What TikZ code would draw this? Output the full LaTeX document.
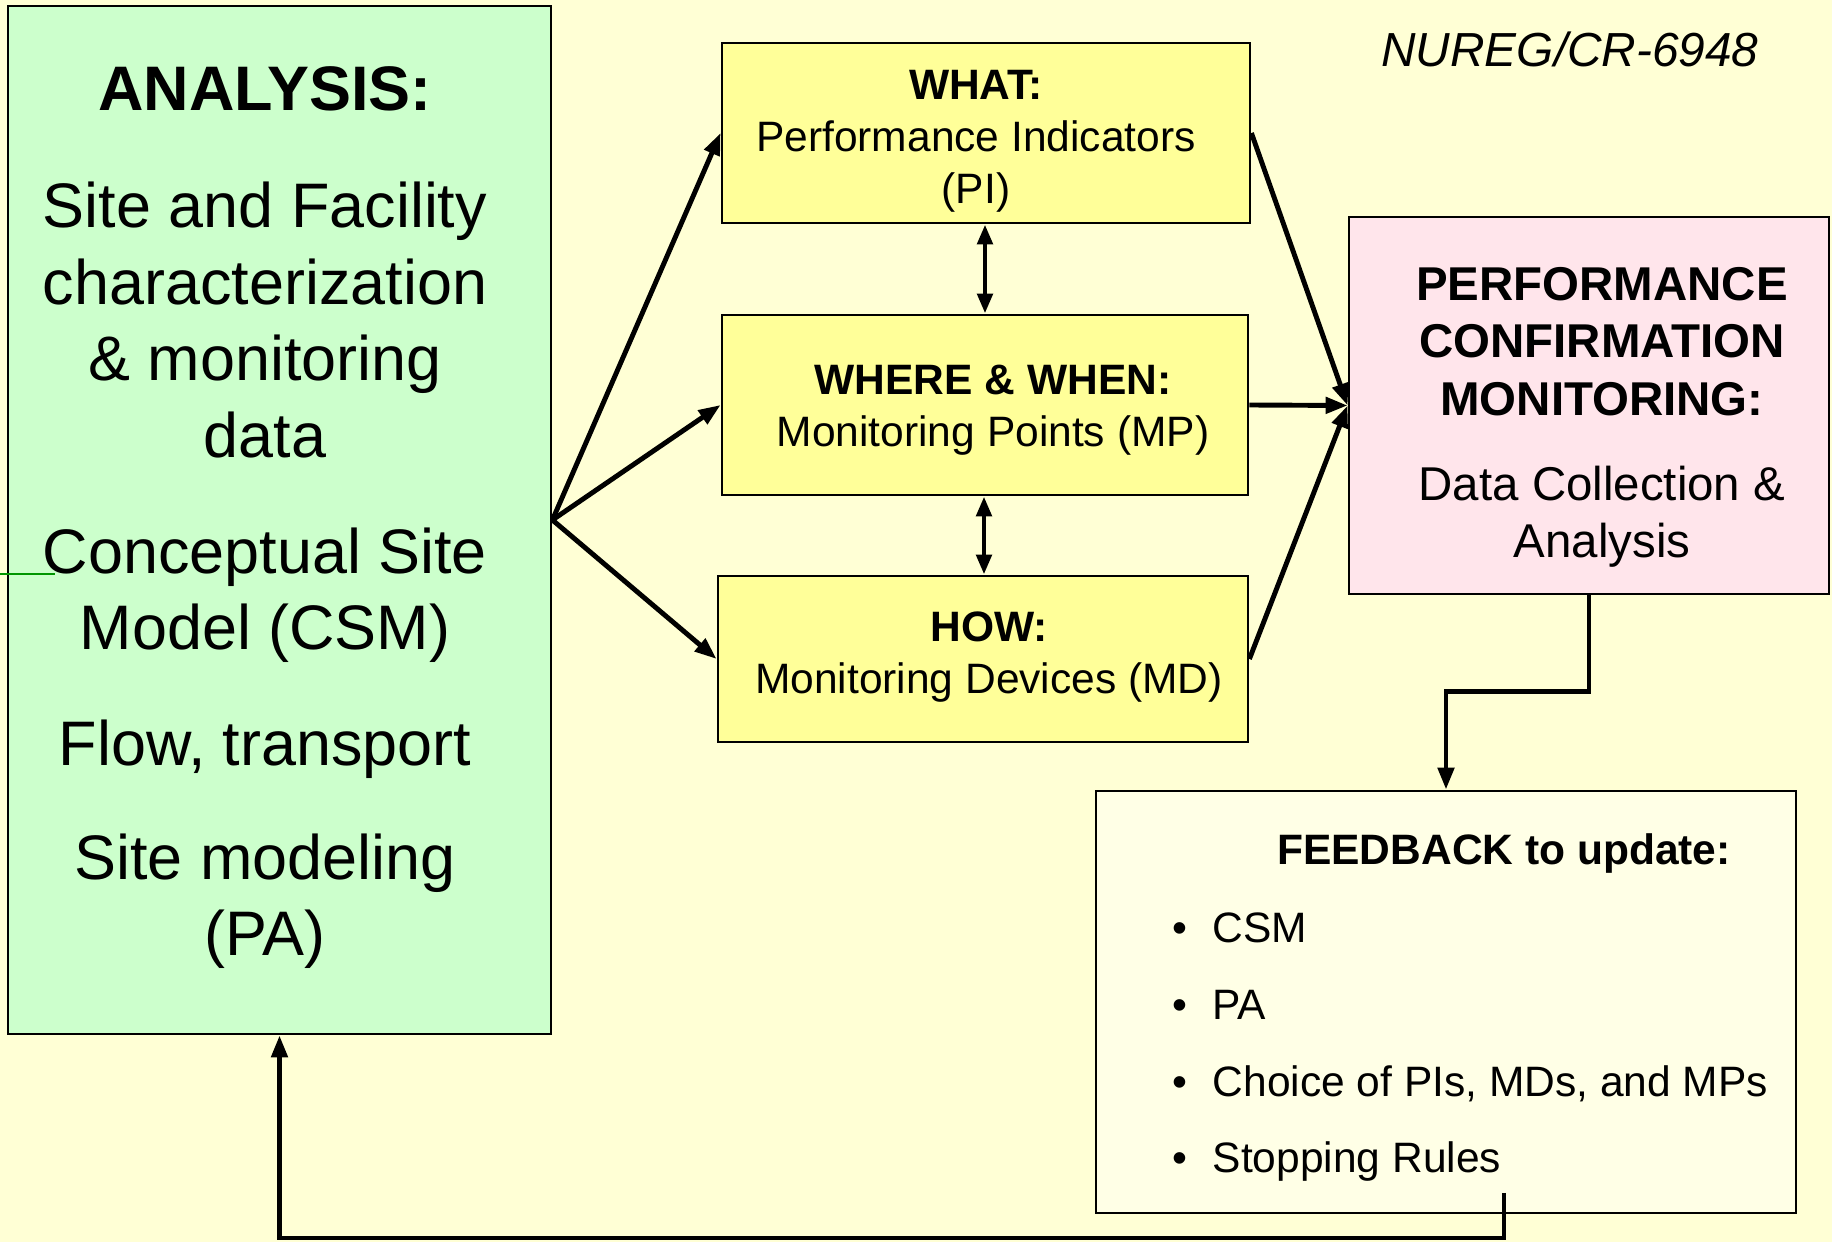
\documentclass[tikz,border=0pt]{standalone}
\usepackage{fontspec}
\setmainfont{Liberation Sans}
\usepackage{tikz}
\usetikzlibrary{arrows.meta,positioning,calc}
\definecolor{bgyellow}{RGB}{255,255,213}
\definecolor{analysisgreen}{RGB}{204,255,204}
\definecolor{boxyellow}{RGB}{255,255,153}
\definecolor{pcmpink}{RGB}{255,229,235}
\definecolor{feedbackfill}{RGB}{255,255,230}
\definecolor{straygreen}{RGB}{0,150,0}

\begin{document}
\begin{tikzpicture}[x=1cm, y=-1cm]
  % Performance confirmation monitoring flow
  \tikzstyle{panel} = [rectangle, draw=black, line width=0.8pt, inner sep=0pt]
  \tikzstyle{boxtext} = [align=center, inner sep=0pt, anchor=base, font=\fontsize{12.1}{14.8}\selectfont]
  \tikzstyle{connection} = [line width=1.4pt, -{Triangle[length=0.22cm, width=0.16cm]}]
  \tikzstyle{twoway} = [line width=1.4pt, {Triangle[length=0.2cm, width=0.15cm]}-{Triangle[length=0.2cm, width=0.15cm]}]

  % Page and background
  \useasboundingbox (0,0) rectangle (18.32,12.42);
  \fill[bgyellow] (0,0) rectangle (18.32,12.42);

  % Boxes
  \node[panel, fill=analysisgreen, minimum width=5.43cm, minimum height=10.28cm] (analysis) at (2.795, 5.20) {};
  \node[panel, fill=boxyellow, minimum width=5.28cm, minimum height=1.80cm] (what) at (9.86, 1.33) {};
  \node[panel, fill=boxyellow, minimum width=5.26cm, minimum height=1.80cm] (where) at (9.85, 4.05) {};
  \node[panel, fill=boxyellow, minimum width=5.30cm, minimum height=1.66cm] (how) at (9.83, 6.59) {};
  \node[panel, fill=pcmpink, minimum width=4.80cm, minimum height=3.77cm] (pcm) at (15.89, 4.055) {};
  \node[panel, fill=feedbackfill, minimum width=7.00cm, minimum height=4.22cm] (feedback) at (14.46, 10.02) {};

  % Texts (base = last line)
  \node[inner sep=0pt, anchor=base, align=center, font=\fontsize{17.9}{21.8}\selectfont] (analysistxt) at (2.65, 9.56)
    {\textbf{ANALYSIS:}\\[11.5pt] Site and Facility\\characterization\\\& monitoring\\data\\[11.2pt]
     Conceptual Site\\Model (CSM)\\[11.2pt] Flow, transport\\[10.5pt] Site modeling\\(PA)};
  \node[boxtext] (whattxt) at (9.76, 2.04) {\textbf{WHAT:}\\Performance Indicators\\(PI)};
  \node[boxtext] (wheretxt) at (9.93, 4.47) {\textbf{WHERE \& WHEN:}\\Monitoring Points (MP)};
  \node[boxtext] (howtxt) at (9.89, 6.94) {\textbf{HOW:}\\Monitoring Devices (MD)};
  \node[boxtext, font=\fontsize{13.5}{16.4}\selectfont] (pcmtxt) at (16.02, 5.58)
    {\textbf{PERFORMANCE}\\\textbf{CONFIRMATION}\\\textbf{MONITORING:}\\[7.8pt] Data Collection \&\\Analysis};
  \node[boxtext, font=\bfseries\fontsize{12.1}{14.8}\selectfont] (fbhead) at (15.04, 8.65) {FEEDBACK to update:};
  \node[boxtext, anchor=base west, align=left, font=\fontsize{12.1}{21.9}\selectfont] (fbitems) at (11.715, 11.73)
    {\makebox[0.405cm][l]{\textbullet}CSM\\\makebox[0.405cm][l]{\textbullet}PA\\
     \makebox[0.405cm][l]{\textbullet}Choice of PIs, MDs, and MPs\\\makebox[0.405cm][l]{\textbullet}Stopping Rules};
  \node[inner sep=0pt, anchor=base, font=\itshape\fontsize{13.6}{16}\selectfont] (nureg) at (15.70, 0.67) {NUREG/CR-6948};

  % Connections
  \draw[connection] (analysis.east) -- (what.west);
  \draw[connection] (analysis.east) -- (where.west);
  \draw[connection] (analysis.east) -- (how.west);
  \draw[twoway] (what.south -| 9.85,0) -- (where.north -| 9.85,0);
  \draw[twoway] (where.south -| 9.84,0) -- (how.north -| 9.84,0);
  \draw[connection] (what.east) -- (pcm.west);
  \draw[connection] (where.east) -- (pcm.west);
  \draw[connection] (how.east) -- (pcm.west);
  \draw[connection] (pcm.south) -- ++(0,0.96) -| (feedback.north);
  \coordinate (fbtail) at (15.04, 11.93);
  \draw[connection] (fbtail) -- (15.04, 12.38) -| (analysis.south);

  % Stray rule at the left edge
  \draw[straygreen, line width=0.4pt] (0, 5.74) -- (0.55, 5.74);
\end{tikzpicture}
\end{document}
